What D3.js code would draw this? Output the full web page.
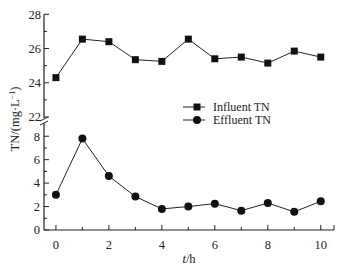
<!DOCTYPE html>
<html>
<head>
<meta charset="utf-8">
<script src="https://cdn.jsdelivr.net/npm/d3@7"></script>
<style>
  body { margin: 0; background: #fff; }
</style>
</head>
<body>
<div id="vis"></div>
<script>
// time in hours
const hours = [0, 1, 2, 3, 4, 5, 6, 7, 8, 9, 10];
const influentTN = [24.3, 26.55, 26.4, 25.35, 25.25, 26.55, 25.4, 25.5, 25.15, 25.85, 25.5];
const effluentTN = [3.0, 7.8, 4.6, 2.85, 1.8, 2.0, 2.25, 1.65, 2.3, 1.55, 2.45];
const xTicks = [0, 2, 4, 6, 8, 10];
const topTicks = [22, 24, 26, 28];
const bottomTicks = [0, 2, 4, 6, 8];

const width = 359, height = 269;
const axisX = 44, axisY = 230;
const serif = "'Liberation Serif', 'Times New Roman', Times, serif";

const svg = d3.select("#vis").append("svg")
  .attr("width", width)
  .attr("height", height)
  .attr("font-family", serif)
  .style("font-family", serif);

const x = d3.scaleLinear().domain([-0.45, 10.5]).range([axisX, 334]);
const yTop = d3.scaleLinear().domain([22, 28]).range([117, 14.3]);
const yBot = d3.scaleLinear().domain([0, 9]).range([axisY, 124.5]);

// left axis pieces (broken)
svg.append("line").attr("x1", axisX).attr("x2", axisX)
  .attr("y1", yTop(28)).attr("y2", 118)
  .attr("stroke", "#222").attr("stroke-width", 1.2);
svg.append("line").attr("x1", axisX).attr("x2", axisX)
  .attr("y1", 123).attr("y2", axisY)
  .attr("stroke", "#222").attr("stroke-width", 1.2);
// break marks
[119, 123].forEach(function(b) {
  svg.append("line")
    .attr("x1", axisX - 4).attr("y1", b + 2)
    .attr("x2", axisX + 4).attr("y2", b - 2)
    .attr("stroke", "#222").attr("stroke-width", 1);
});

// y ticks - top
d3.range(22, 28.01, 1).forEach(function(v) {
  const major = v % 2 === 0;
  svg.append("line").attr("x1", axisX).attr("x2", axisX + (major ? 5 : 3))
    .attr("y1", yTop(v)).attr("y2", yTop(v)).attr("stroke", "#222");
});
svg.selectAll(".ttop").data(topTicks).enter().append("text")
  .attr("x", axisX - 3).attr("y", d => yTop(d))
  .attr("text-anchor", "end").attr("dy", "0.35em").attr("fill", "#222")
  .style("font-size", "12.5px").text(d => d);

// y ticks - bottom
d3.range(0, 8.01, 1).forEach(function(v) {
  const major = v % 2 === 0;
  svg.append("line").attr("x1", axisX).attr("x2", axisX + (major ? 5 : 3))
    .attr("y1", yBot(v)).attr("y2", yBot(v)).attr("stroke", "#222");
});
svg.selectAll(".tbot").data(bottomTicks).enter().append("text")
  .attr("x", axisX - 4).attr("y", d => yBot(d))
  .attr("text-anchor", "end").attr("dy", "0.35em").attr("fill", "#222")
  .style("font-size", "12.5px").text(d => d);

// x axis
svg.append("line").attr("x1", axisX).attr("x2", 334)
  .attr("y1", axisY).attr("y2", axisY)
  .attr("stroke", "#222").attr("stroke-width", 1.2);
hours.forEach(function(h) {
  const major = h % 2 === 0;
  svg.append("line").attr("x1", x(h)).attr("x2", x(h))
    .attr("y1", axisY).attr("y2", axisY - (major ? 5 : 3)).attr("stroke", "#222");
});
svg.append("line").attr("x1", 334).attr("x2", 334)
  .attr("y1", axisY).attr("y2", axisY - 5).attr("stroke", "#222");
svg.selectAll(".tx").data(xTicks).enter().append("text")
  .attr("x", d => x(d)).attr("y", 249)
  .attr("text-anchor", "middle").attr("fill", "#222")
  .style("font-size", "12.5px").text(d => d);

// axis titles
const xt = svg.append("text").attr("x", 189).attr("y", 263)
  .attr("text-anchor", "middle").attr("fill", "#222").style("font-size", "12.5px");
xt.append("tspan").style("font-style", "italic").text("t");
xt.append("tspan").text("/h");

const yt = svg.append("text")
  .attr("transform", "translate(19,119) rotate(-90)")
  .attr("text-anchor", "middle").attr("fill", "#222").style("font-size", "12.5px");
yt.append("tspan").text("TN/(mg·L");
yt.append("tspan").attr("dy", -4).style("font-size", "8px").text("−1");
yt.append("tspan").attr("dy", 4).text(")");

// influent series
const lineTop = d3.line().x((d, i) => x(hours[i])).y(d => yTop(d));
svg.append("path").datum(influentTN)
  .attr("d", lineTop).attr("fill", "none").attr("stroke", "#222").attr("stroke-width", 1);
svg.selectAll(".sq").data(influentTN).enter().append("rect")
  .attr("x", (d, i) => x(hours[i]) - 3.5).attr("y", d => yTop(d) - 3.5)
  .attr("width", 7).attr("height", 7).attr("fill", "#111");

// effluent series
const lineBot = d3.line().x((d, i) => x(hours[i])).y(d => yBot(d));
svg.append("path").datum(effluentTN)
  .attr("d", lineBot).attr("fill", "none").attr("stroke", "#222").attr("stroke-width", 1);
svg.selectAll(".ci").data(effluentTN).enter().append("circle")
  .attr("cx", (d, i) => x(hours[i])).attr("cy", d => yBot(d))
  .attr("r", 4).attr("fill", "#111");

// legend
const legend = svg.append("g");
legend.append("line").attr("x1", 183).attr("x2", 205).attr("y1", 107).attr("y2", 107).attr("stroke", "#222");
legend.append("rect").attr("x", 193.5).attr("y", 103.5).attr("width", 7).attr("height", 7).attr("fill", "#111");
legend.append("text").attr("x", 213).attr("y", 107).attr("dy", "0.35em").attr("fill", "#222")
  .style("font-size", "12px").text("Influent TN");
legend.append("line").attr("x1", 183).attr("x2", 205).attr("y1", 120).attr("y2", 120).attr("stroke", "#222");
legend.append("circle").attr("cx", 197).attr("cy", 120).attr("r", 4).attr("fill", "#111");
legend.append("text").attr("x", 213).attr("y", 120).attr("dy", "0.35em").attr("fill", "#222")
  .style("font-size", "12px").text("Effluent TN");
</script>
</body>
</html>
